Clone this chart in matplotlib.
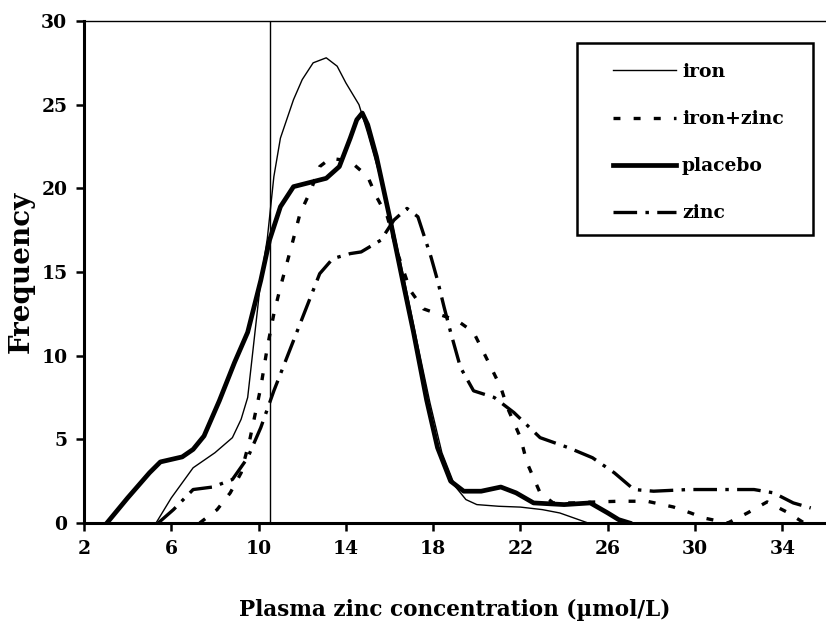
import matplotlib
matplotlib.use("Agg")
import matplotlib.pyplot as plt
from matplotlib.patches import Rectangle

plt.rcParams['font.family'] = ['DejaVu Serif']
plt.rcParams['font.weight'] = 'bold'
plt.rcParams['lines.scale_dashes'] = False

# --- frequency curves, read point by point (x = plasma zinc, y = frequency) ---
iron_x = [5.3, 6.0, 7.0, 8.0, 8.8, 9.2, 9.5, 10.1, 10.4, 10.7, 11.0, 11.6, 12.0, 12.5,
          13.1, 13.6, 14.0, 14.6, 15.0, 15.5, 16.1, 16.7, 17.2, 17.85, 18.4, 19.0,
          19.5, 20.0, 21.0, 22.0, 23.0, 23.8, 25.1]
iron_y = [0.0, 1.5, 3.3, 4.2, 5.1, 6.2, 7.5, 14.5, 17.0, 20.7, 23.0, 25.3, 26.5, 27.5,
          27.8, 27.3, 26.3, 25.0, 23.3, 21.0, 18.0, 14.4, 11.2, 7.2, 4.2, 2.2,
          1.4, 1.1, 1.0, 0.95, 0.8, 0.6, 0.0]

ironzinc_x = [7.3, 8.1, 8.7, 9.2, 9.6, 10.1, 10.4, 10.7, 11.0, 11.5, 11.9, 12.4, 12.8,
              13.3, 13.8, 14.3, 15.0, 15.4, 15.9, 16.4, 16.95, 17.55, 18.2, 19.1, 19.85,
              20.5, 21.1, 21.4, 22.0, 22.3, 22.9, 23.5, 24.5, 25.3, 26.5, 27.8, 29.0,
              29.8, 30.4, 31.5, 32.4, 33.3, 34.2, 35.0]
ironzinc_y = [0.0, 0.8, 1.8, 3.0, 5.0, 8.1, 10.5, 12.5, 14.1, 16.5, 18.5, 19.9, 21.3,
              21.8, 21.7, 21.5, 20.7, 19.5, 18.3, 16.0, 13.9, 12.8, 12.5, 12.1, 11.4,
              9.7, 8.1, 6.9, 5.1, 3.6, 1.8, 1.2, 1.2, 1.25, 1.3, 1.3, 0.96,
              0.6, 0.3, 0.0, 0.6, 1.26, 0.66, 0.0]

placebo_x = [3.05, 4.0, 5.0, 5.5, 6.0, 6.5, 7.0, 7.5, 8.2, 8.9, 9.5, 10.1, 10.5, 11.0,
             11.6, 12.5, 13.1, 13.7, 14.2, 14.5, 14.75, 15.0, 15.4, 16.0, 16.6, 17.1,
             17.7, 18.2, 18.8, 19.4, 20.2, 21.1, 21.8, 22.6, 24.0, 25.2, 26.0, 26.5, 27.0]
placebo_y = [0.0, 1.5, 3.0, 3.65, 3.8, 3.95, 4.4, 5.2, 7.3, 9.6, 11.4, 14.5, 16.9, 18.9,
             20.1, 20.4, 20.6, 21.3, 23.0, 24.1, 24.5, 23.8, 21.9, 18.3, 14.5, 11.4,
             7.35, 4.5, 2.5, 1.9, 1.9, 2.15, 1.8, 1.2, 1.1, 1.2, 0.6, 0.2, 0.0]

zinc_x = [5.4, 6.1, 7.0, 7.9, 8.8, 9.5, 10.1, 10.7, 11.6, 12.2, 12.8, 13.4, 14.2, 14.7,
          15.6, 16.2, 16.8, 17.3, 17.55, 17.9, 18.2, 18.5, 18.8, 19.25, 19.85, 20.8,
          21.7, 22.9, 24.2, 25.3, 26.3, 27.2, 28.1, 29.7, 31.0, 32.7, 33.6, 34.5, 35.3]
zinc_y = [0.0, 0.8, 2.0, 2.15, 2.6, 3.9, 5.7, 7.9, 10.9, 12.9, 14.9, 15.8, 16.1, 16.2,
          16.9, 18.1, 18.8, 18.3, 17.3, 15.9, 14.5, 12.9, 11.4, 9.3, 7.9, 7.5,
          6.6, 5.1, 4.5, 3.9, 3.0, 2.0, 1.9, 2.0, 2.0, 2.0, 1.8, 1.2, 0.9]

cutoff = 10.5
xticks = [2, 6, 10, 14, 18, 22, 26, 30, 34]
yticks = [0, 5, 10, 15, 20, 25, 30]

W, H = 826, 624
fig = plt.figure(figsize=(W / 100, H / 100), dpi=100)
ax = fig.add_axes([84 / W, 1 - 523 / H, 1 - 84 / W, (523 - 21) / H])

ax.plot(iron_x, iron_y, '-', color='black', lw=1.0, label='iron')
ax.plot(ironzinc_x, ironzinc_y, color='black', lw=2.4, dashes=(5, 9.5),
        label='iron+zinc')
ax.plot(placebo_x, placebo_y, '-', color='black', lw=3.4, label='placebo')
ax.plot(zinc_x, zinc_y, color='black', lw=2.4, dashes=(17, 6, 2.5, 6),
        label='zinc')
ax.axvline(cutoff, color='black', lw=1.0)

ax.set_xlim(2, 36)
ax.set_ylim(0, 30)
ax.set_xticks(xticks)
ax.set_yticks(yticks)
ax.tick_params(direction='out', length=6, width=1.8, labelsize=13.5, pad=6)

for side in ('left', 'bottom'):
    ax.spines[side].set_linewidth(2.2)
ax.spines['top'].set_linewidth(1.0)
ax.spines['right'].set_visible(False)

ax.set_xlabel('Plasma zinc concentration (\u00b5mol/L)', fontsize=15.5,
              fontweight='bold', labelpad=30)
ax.set_ylabel('Frequency', fontsize=20, fontweight='bold', labelpad=5)

# legend entries without their own frame; the box is drawn separately
leg = ax.legend(loc='upper left', bbox_to_anchor=(613 / W, 1 - 63 / H),
                bbox_transform=fig.transFigure, fontsize=13.5, frameon=False,
                handlelength=3.36, handletextpad=0.32, labelspacing=1.55,
                borderpad=0, borderaxespad=0)
for t in leg.get_texts():
    t.set_fontweight('bold')

fig.patches.append(Rectangle((577 / W, 1 - 235 / H), (813 - 577) / W, (235 - 43) / H,
                             transform=fig.transFigure, fill=False,
                             edgecolor='black', lw=1.8))

fig.savefig('out.png', dpi=100)
